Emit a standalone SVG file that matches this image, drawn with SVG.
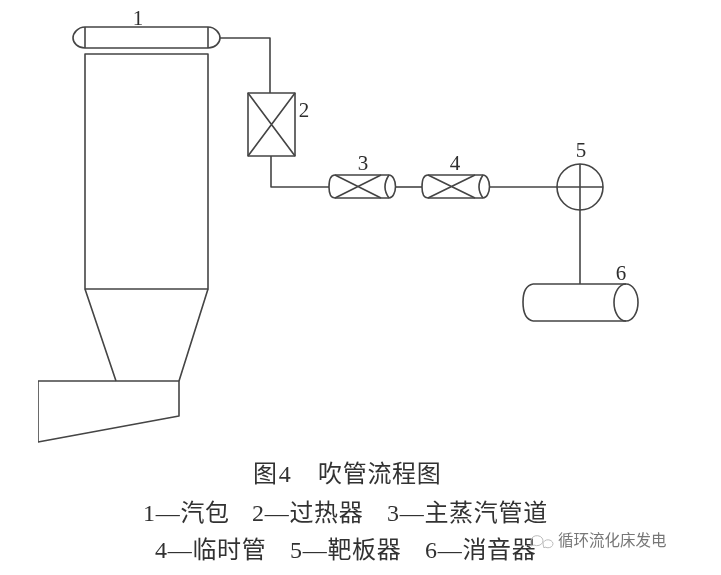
<svg xmlns="http://www.w3.org/2000/svg" width="721" height="575" viewBox="0 0 721 575">
<defs>
<filter id="soft" x="0" y="0" width="100%" height="100%"><feGaussianBlur stdDeviation="0.45"/></filter>
<style>
.l{fill:none;stroke:#444;stroke-width:1.6;stroke-linejoin:round}
.n{font-family:"Liberation Serif","Noto Sans CJK SC",serif;font-size:21px;fill:#2e2e2e;text-anchor:middle;stroke:none}
.c{font-family:"Liberation Serif","Noto Sans CJK SC",serif;font-size:24px;letter-spacing:.7px;fill:#333}
.w{font-family:"Noto Sans CJK SC",sans-serif;font-size:15.5px;fill:#777}
</style>
</defs>
<rect width="721" height="575" fill="#fff"/>
<g filter="url(#soft)">
<g id="connectors" class="l">
<path d="M220 38H270V93"/>
<path d="M271 156V187H329"/>
<path d="M395 187H422"/>
<path d="M489 187H557"/>
<path d="M580 210V284"/>
</g>
<g id="node-1" class="l">
<path d="M85 27H208C215 27 220 33 220 38C220 43 215 48 208 48H85C78 48 73 43 73 38C73 33 78 27 85 27Z"/>
<path d="M85 27V48M208 27V48"/>
<text class="n" x="138" y="25">1</text>
</g>
<g id="furnace" class="l">
<path d="M85 54H208V289H85Z"/>
<path d="M85 289L116 381M208 289L179 381"/>
<path d="M38 381H179V416L38 442Z"/>
</g>
<g id="node-2" class="l">
<rect x="248" y="93" width="47" height="63"/>
<path d="M248 93L295 156M295 93L248 156"/>
<text class="n" x="304" y="117">2</text>
</g>
<g id="node-3" class="l">
<path d="M335 175H389A6.500 11.500 0 0 1 389 198H335Q329 198 329 187Q329 175 335 175Z"/>
<path d="M389 175Q381 187 389 198M335 175L381 198M335 198L381 175"/>
<text class="n" x="363" y="170">3</text>
</g>
<g id="node-4" class="l">
<path d="M428 175H483A6.500 11.500 0 0 1 483 198H428Q422 198 422 187Q422 175 428 175Z"/>
<path d="M483 175Q475 187 483 198M428 175L475 198M428 198L475 175"/>
<text class="n" x="455" y="170">4</text>
</g>
<g id="node-5" class="l">
<circle cx="580" cy="187" r="23"/>
<path d="M580 164V210M557 187H603"/>
<text class="n" x="581" y="157">5</text>
</g>
<g id="node-6" class="l">
<path d="M533 284H626M533 321H626M533 284Q523 286 523 302Q523 319 533 321"/>
<ellipse cx="626" cy="302.500" rx="12" ry="18.500"/>
<text class="n" x="621" y="280">6</text>
</g>
<g id="caption">
<text class="c" x="253" y="482">图<tspan dx="1">4</tspan></text>
<text class="c" x="318" y="482">吹管流程图</text>
<text class="c" x="143" y="521">1—汽包</text>
<text class="c" x="252" y="521">2—过热器</text>
<text class="c" x="387" y="521">3—主蒸汽管道</text>
<text class="c" x="155" y="558">4—临时管</text>
<text class="c" x="290" y="558">5—靶板器</text>
<text class="c" x="425" y="558">6—消音器</text>
</g>
<g id="watermark">
<path d="M531 541a6 5 0 1 1 3 4l-3 1z M543 544a5 4 0 1 1 2 3l-1 1z" fill="none" stroke="#bbb" stroke-width="1"/>
<text class="w" x="558" y="546">循环流化床发电</text>
</g>
</g>
</svg>
